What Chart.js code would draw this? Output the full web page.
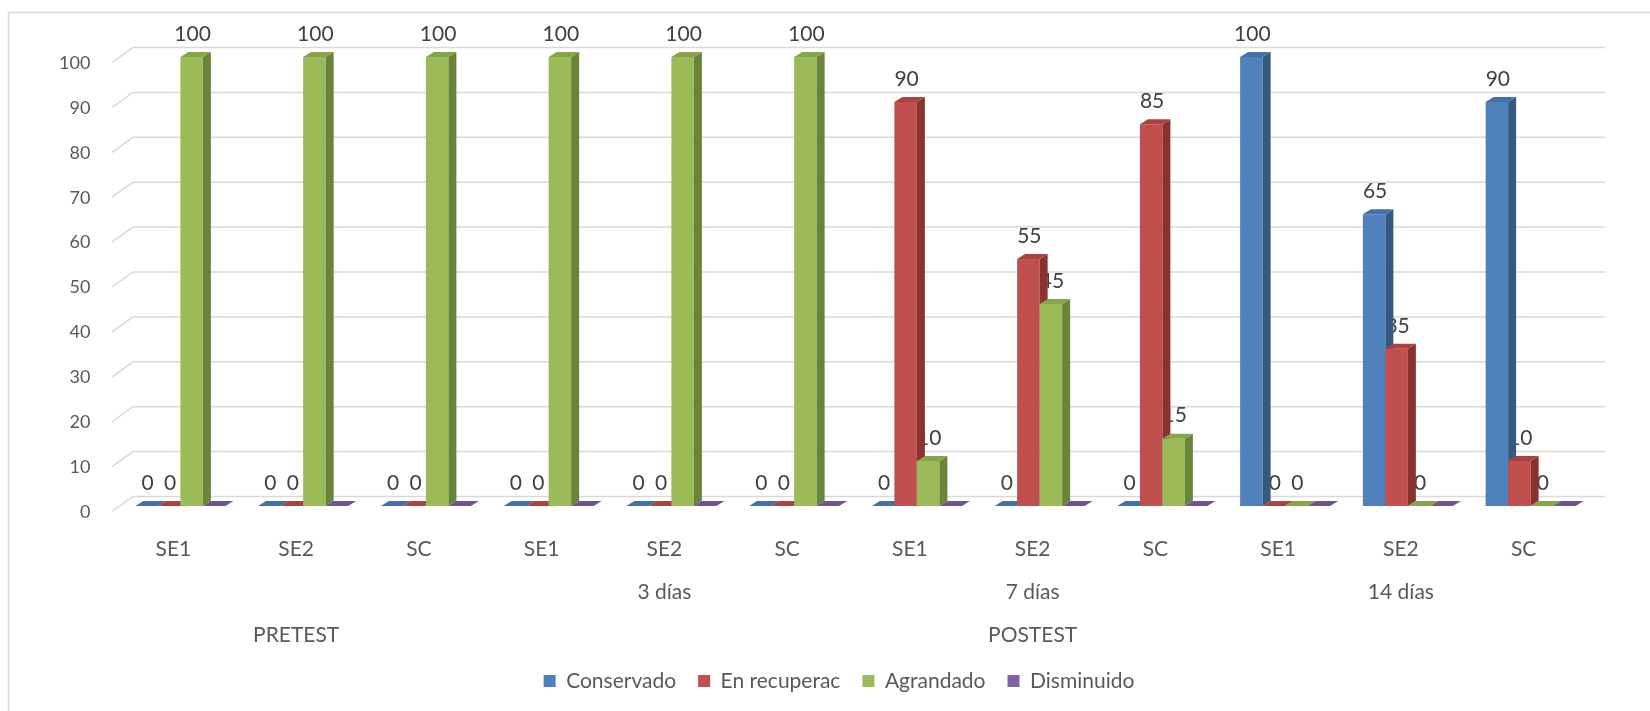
<!DOCTYPE html>
<html>
<head>
<meta charset="utf-8">
<title>Evolución por grupo</title>
<script src="https://cdn.jsdelivr.net/npm/chart.js@4.4.1/dist/chart.umd.min.js"></script>
<style>
  html, body { margin: 0; padding: 0; background: #fff; }
  #wrap { width: 1650px; height: 711px; position: relative; }
</style>
</head>
<body>
<div id="wrap"><canvas id="chart"></canvas></div>
<script>
// categories (three label rows under the axis)
const groups = ['SE1', 'SE2', 'SC', 'SE1', 'SE2', 'SC', 'SE1', 'SE2', 'SC', 'SE1', 'SE2', 'SC'];
const dayLabels = ['', '', '', '', '3 días', '', '', '7 días', '', '', '14 días', ''];
const phaseLabels = ['', 'PRETEST', '', '', '', '', '', 'POSTEST', '', '', '', ''];

// series values (%)
const conservado = [0, 0, 0, 0, 0, 0, 0, 0, 0, 100, 65, 90];
const enRecuperac = [0, 0, 0, 0, 0, 0, 90, 55, 85, 0, 35, 10];
const agrandado = [100, 100, 100, 100, 100, 100, 10, 45, 15, 0, 0, 0];
const disminuido = [0, 0, 0, 0, 0, 0, 0, 0, 0, 0, 0, 0];

const seriesNames = ['Conservado', 'En recuperac', 'Agrandado', 'Disminuido'];
const seriesValues = [conservado, enRecuperac, agrandado, disminuido];

// front / side / top colours of each 3d bar
const faceColors = [
  { front: '#4F81BD', side: '#36597F', top: '#4270A8' },
  { front: '#C0504D', side: '#8A3230', top: '#AA423F' },
  { front: '#9BBB59', side: '#6A843A', top: '#86A44A' },
  { front: '#8064A2', side: '#5B4676', top: '#6F5490' },
];
const showLabels = [true, true, true, false];

const depth = { dx: 8, dy: -5 };      // bar thickness
const wall = { dx: 21, dy: -15 };     // floor depth of the plot
const textGrey = '#595959';
const fontFamily = 'Lato, "Open Sans", sans-serif';

function poly(c, pts, color) {
  c.beginPath();
  c.moveTo(pts[0][0], pts[0][1]);
  for (let i = 1; i < pts.length; i++) c.lineTo(pts[i][0], pts[i][1]);
  c.closePath();
  c.fillStyle = color;
  c.fill();
}

const bars3d = {
  id: 'bars3d',
  beforeDraw(chart) {
    const c = chart.ctx;
    c.save();
    c.fillStyle = '#fff';
    c.fillRect(0, 0, chart.width, chart.height);
    c.strokeStyle = '#d9d9d9';
    c.lineWidth = 1.5;
    c.strokeRect(8.5, 12.5, chart.width + 20, chart.height + 20);
    c.restore();
  },
  beforeDatasetsDraw(chart) {
    const c = chart.ctx;
    const area = chart.chartArea;
    const y = chart.scales.y;
    c.save();

    // back wall gridlines with the angled floor edge
    c.strokeStyle = '#d9d9d9';
    c.lineWidth = 1.5;
    const backLeft = area.left + 14;
    const backRight = area.right + 13;
    y.ticks.forEach((t) => {
      const yb = y.getPixelForValue(t.value) - 9.5;
      c.beginPath();
      c.moveTo(backLeft - wall.dx, yb - wall.dy);
      c.lineTo(backLeft, yb);
      c.lineTo(backRight, yb);
      c.stroke();
    });

    // value labels sit behind the bars
    c.font = '21px ' + fontFamily;
    c.fillStyle = '#404040';
    c.textAlign = 'center';
    c.textBaseline = 'middle';
    chart.data.datasets.forEach((ds, i) => {
      if (!showLabels[i]) return;
      chart.getDatasetMeta(i).data.forEach((bar, j) => {
        c.fillText(String(ds.data[j]), bar.x + 1, bar.y - 23);
      });
    });
    c.restore();
  },
  afterDatasetsDraw(chart) {
    // bars left to right inside each group so every front face hides
    // the side face of the bar before it
    const c = chart.ctx;
    c.save();
    chart.data.datasets.forEach((ds, i) => {
      const col = faceColors[i];
      chart.getDatasetMeta(i).data.forEach((bar) => {
        const l = bar.x - bar.width / 2;
        const r = bar.x + bar.width / 2;
        const top = bar.y;
        const base = bar.base;
        if (base - top > 0.5) {
          poly(c, [[l, top], [r, top], [r, base], [l, base]], col.front);
          poly(c, [[r, top], [r + depth.dx, top + depth.dy], [r + depth.dx, base + depth.dy], [r, base]], col.side);
        }
        poly(c, [[l, top], [l + depth.dx, top + depth.dy], [r + depth.dx, top + depth.dy], [r, top]], col.top);
      });
    });
    c.restore();
  },
};

const datasets = seriesNames.map((name, i) => ({
  label: name,
  data: seriesValues[i],
  backgroundColor: 'rgba(0,0,0,0)',
  borderWidth: 0,
}));

new Chart(document.getElementById('chart'), {
  type: 'bar',
  data: {
    labels: groups.map((g, i) => [g, dayLabels[i], phaseLabels[i]]),
    datasets: datasets,
  },
  options: {
    responsive: true,
    maintainAspectRatio: false,
    animation: false,
    categoryPercentage: 0.7335,
    barPercentage: 1,
    layout: { padding: { left: 86, right: 58, top: 57, bottom: 9.5 } },
    plugins: {
      tooltip: { enabled: false },
      legend: {
        position: 'bottom',
        labels: {
          boxWidth: 12,
          boxHeight: 12,
          padding: 22,
          color: textGrey,
          font: { family: fontFamily, size: 21 },
          generateLabels: (chart) => chart.data.datasets.map((ds, i) => ({
            text: ds.label,
            fillStyle: faceColors[i].front,
            strokeStyle: faceColors[i].front,
            lineWidth: 0,
            fontColor: textGrey,
            hidden: false,
            datasetIndex: i,
          })),
        },
      },
    },
    scales: {
      x: {
        grid: { display: false },
        border: { display: false },
        ticks: {
          color: textGrey,
          padding: 14,
          labelOffset: -7,
          maxRotation: 0,
          autoSkip: false,
          font: { family: fontFamily, size: 21, lineHeight: '43px' },
        },
        afterFit: (s) => { s.height = 142.5; },
      },
      y: {
        min: 0,
        max: 100,
        grid: { display: false },
        border: { display: false },
        ticks: {
          stepSize: 10,
          color: textGrey,
          // mirrored + far-aligned keeps the labels right-aligned left of the plot
          mirror: true,
          crossAlign: 'far',
          padding: -60,
          labelOffset: 6,
          font: { family: fontFamily, size: 18 },
        },
        afterFit: (s) => { s.width = 33; },
      },
    },
  },
  plugins: [bars3d],
});
</script>
</body>
</html>
